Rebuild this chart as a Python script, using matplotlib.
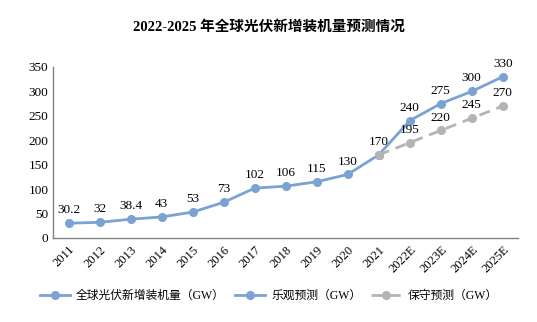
import matplotlib.pyplot as plt
from matplotlib.lines import Line2D

plt.rcParams['font.family'] = ['Liberation Serif', 'Noto Sans CJK SC']

years = ['2011', '2012', '2013', '2014', '2015', '2016', '2017', '2018', '2019',
         '2020', '2021', '2022E', '2023E', '2024E', '2025E']
actual = [30.2, 32, 38.4, 43, 53, 73, 102, 106, 115, 130, 170]
optimistic = [170, 240, 275, 300, 330]
conservative = [170, 195, 220, 245, 270]

BLUE = '#7aa2d3'
GRAY = '#b4b4b4'

fig = plt.figure(figsize=(5.37, 3.22), dpi=100)
ax = fig.add_axes([0.099, 0.261, 0.866, 0.531])

x_all = list(range(len(years)))
x_act = x_all[:len(actual)]
x_fc = x_all[len(actual) - 1:]

ax.plot(x_act, actual, color=BLUE, lw=2, marker='o', ms=5.5, zorder=3)
ax.plot(x_fc, optimistic, color=BLUE, lw=2, marker='o', ms=5.5, zorder=3)
ax.plot(x_fc, conservative, color=GRAY, lw=2, ls=(0, (4, 2.5)), marker='o', ms=5.5, zorder=4)

def fmt(v):
    return ('%g' % v)

# data labels above each point
pts = list(zip(x_act, actual)) + list(zip(x_fc[1:], optimistic[1:])) + list(zip(x_fc[1:], conservative[1:]))
for x, v in pts:
    ax.annotate(fmt(v), (x, v), xytext=(0, 5), textcoords='offset points',
                ha='center', va='bottom', fontsize=9.5)

ax.set_xlim(-0.5, len(years) - 0.5)
ax.set_ylim(0, 350)
ax.set_yticks(range(0, 351, 50))
ax.set_xticks(x_all)
ax.set_xticklabels(years, rotation=45, ha='right', rotation_mode='anchor', fontsize=9)
ax.tick_params(axis='y', labelsize=9.5, length=0)
ax.tick_params(axis='x', length=0, pad=4)
for s in ['top', 'right']:
    ax.spines[s].set_visible(False)
for s in ['left', 'bottom']:
    ax.spines[s].set_color('#808080')
    ax.spines[s].set_linewidth(1)

fig.text(0.5, 0.915, '2022-2025 年全球光伏新增装机量预测情况', ha='center', va='center',
         fontsize=10.5, fontweight='bold')

handles = [
    Line2D([], [], color=BLUE, lw=2, marker='o', ms=5.5),
    Line2D([], [], color=BLUE, lw=2, marker='o', ms=5.5),
    Line2D([], [], color=GRAY, lw=2, ls=(0, (4, 2.5)), marker='o', ms=5.5),
]
labels = ['全球光伏新增装机量（GW）', '乐观预测（GW）', '保守预测（GW）']
fig.legend(handles, labels, loc='center', bbox_to_anchor=(0.5, 0.08), ncol=3,
           frameon=False, fontsize=8.5, handlelength=2.6, columnspacing=0.8, handletextpad=0.5)

plt.savefig('out.png', dpi=100)
